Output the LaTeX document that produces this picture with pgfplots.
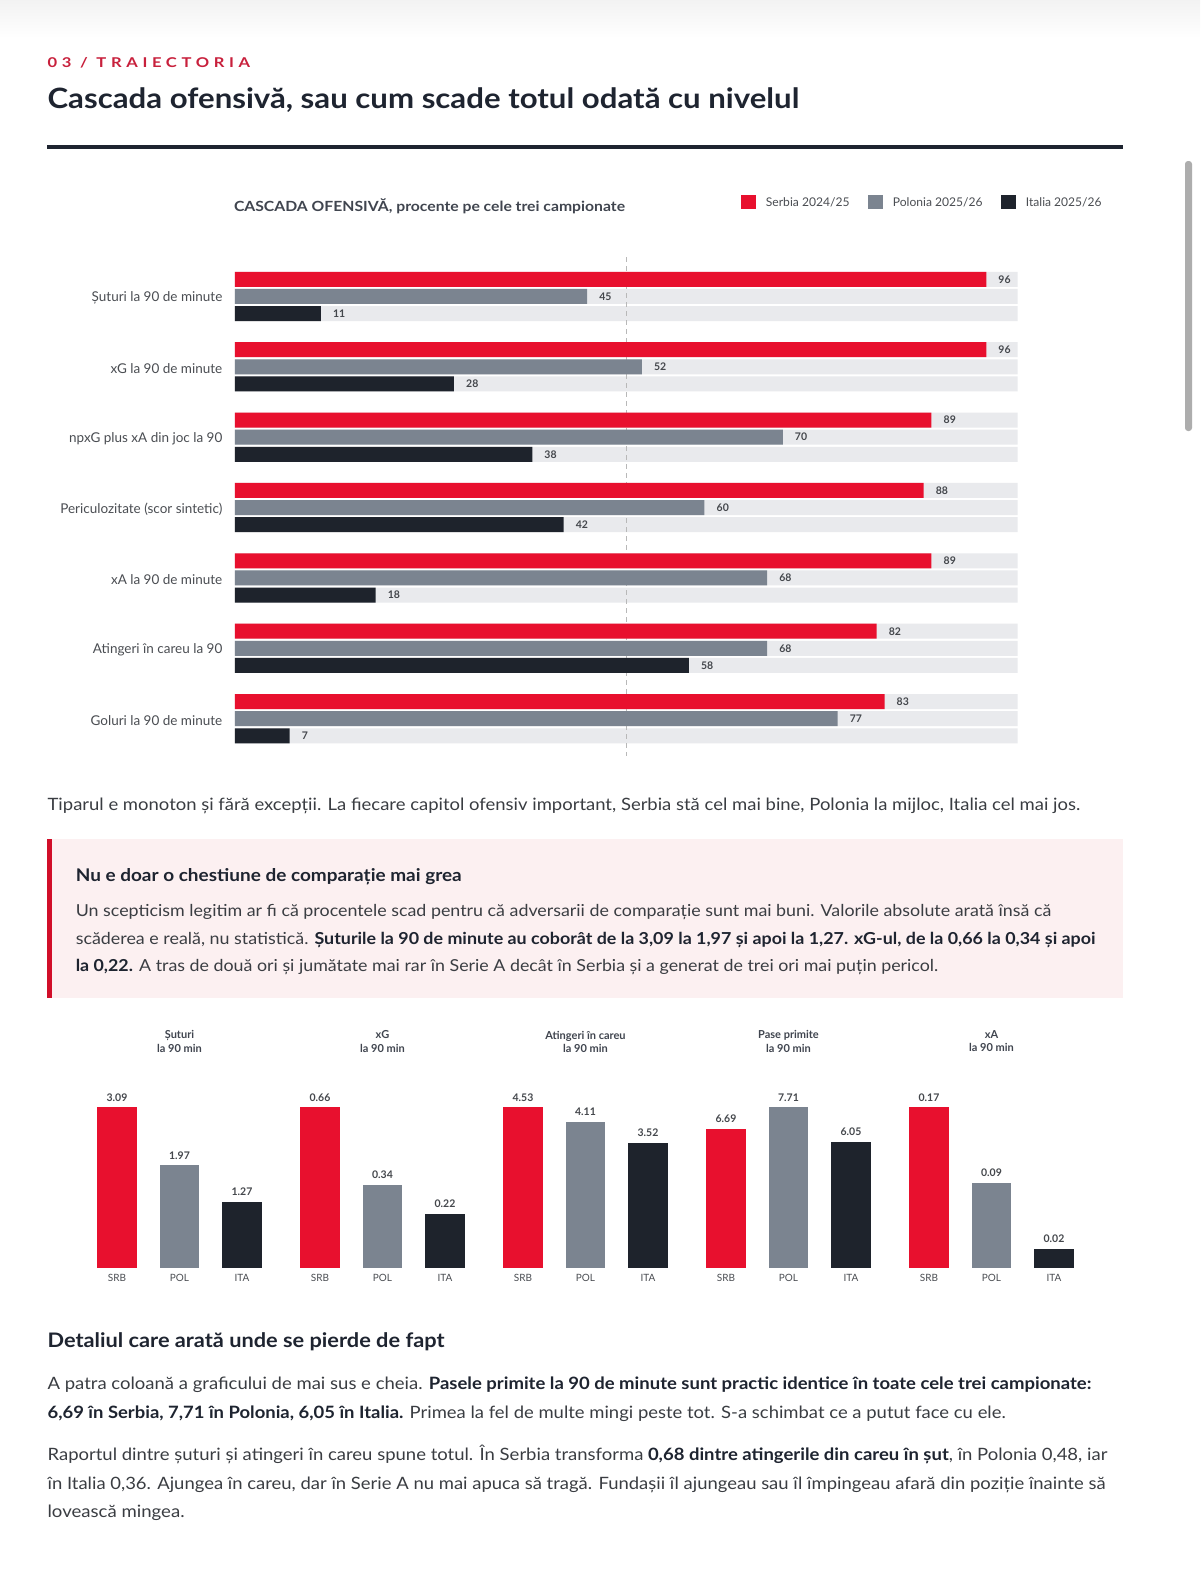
\documentclass[border=0pt]{standalone}
\usepackage{pgfplots}
\usepackage{pgfplotstable}
\pgfplotsset{compat=1.18}
\usepackage{graphicx}
\usepackage{fontspec}
\setmainfont{Lato}
\newfontfamily\kickerfont[LetterSpace=28]{Lato}

\definecolor{srbc}{HTML}{E8102E}
\definecolor{polc}{HTML}{7B8490}
\definecolor{itac}{HTML}{1E232C}
\definecolor{trackc}{HTML}{E9EAED}
\definecolor{kickc}{HTML}{C8203C}
\definecolor{headc}{HTML}{1E2430}
\definecolor{bodyc}{HTML}{3A3D42}
\definecolor{labc}{HTML}{4A4D52}
\definecolor{valc}{HTML}{44474C}
\definecolor{calloutbg}{HTML}{FCF0F1}

\newsavebox\fitbox
\newcommand\fitw[2]{\sbox\fitbox{#2}\pgfmathsetmacro\fitsc{#1/\the\wd\fitbox}\scalebox{\fitsc}[1]{\usebox\fitbox}}

\pgfplotstableread{
idx serbia polonia italia full
0 96 45 11 100
1 96 52 28 100
2 89 70 38 100
3 88 60 42 100
4 89 68 18 100
5 82 68 58 100
6 83 77 7 100
}\cascada

\pgfplotsset{
  sm/.style={
    scale only axis, width=187.5pt, height=160.2pt, anchor=south,
    xmin=-0.5, xmax=2.5, ymin=0,
    axis line style={draw=none}, tick style={draw=none},
    ytick=\empty, xtick={0,1,2}, xticklabels={SRB,POL,ITA},
    xticklabel style={font=\fontsize{10}{12}\selectfont, text=labc, inner sep=0pt, anchor=north, yshift=-2pt},
    ybar, bar width=39.3pt, clip=false,
    /pgf/number format/assume math mode=true,
    nodes near coords={\pgfmathprintnumber[fixed,fixed zerofill,precision=2]{\pgfplotspointmeta}},
    every node near coord/.append style={font=\bfseries\fontsize{10.5}{12}\selectfont, text=valc, inner sep=0pt, yshift=6pt},
  },
}

\begin{document}
\begin{tikzpicture}[x=1pt,y=1pt]
\useasboundingbox (0,0) rectangle (1200,-1580);
\fill[white] (0,0) rectangle (1200,-1580);
\shade[top color=black!5, bottom color=white] (0,0) rectangle (1200,-38);
% scrollbar
\fill[black!32, rounded corners=3pt] (1185,-161) rectangle (1192,-431);

% kicker and title
\node[anchor=mid west, inner sep=0, text=kickc, font=\kickerfont\bfseries\fontsize{13.5}{16}\selectfont] at (47.4,-64.5) {\fitw{202.5}{03 / TRAIECTORIA}};
\node[anchor=mid west, inner sep=0, text=headc, font=\bfseries\fontsize{28}{32}\selectfont] at (47.4,-106) {\fitw{751.6}{Cascada ofensivă, sau cum scade totul odată cu nivelul}};
\fill[headc] (47.4,-144.8) rectangle (1123.4,-149.4);

% chart title and legend
\node[anchor=mid west, inner sep=0, text=headc!85, font=\bfseries\fontsize{14}{16}\selectfont] at (233.8,-208.5) {\fitw{391}{CASCADA OFENSIVĂ, procente pe cele trei campionate}};
\fill[srbc] (740.6,-195) rectangle (755.7,-208.5);
\fill[polc] (867.5,-195) rectangle (882.6,-208.5);
\fill[itac] (1000.5,-195) rectangle (1015.6,-208.5);
\node[anchor=mid west, inner sep=0, text=labc, font=\fontsize{12}{14}\selectfont] at (765.7,-204) {\fitw{83.7}{Serbia 2024/25}};
\node[anchor=mid west, inner sep=0, text=labc, font=\fontsize{12}{14}\selectfont] at (892.7,-204) {\fitw{89.7}{Polonia 2025/26}};
\node[anchor=mid west, inner sep=0, text=labc, font=\fontsize{12}{14}\selectfont] at (1025.7,-204) {\fitw{75.6}{Italia 2025/26}};

\begin{axis}[
  at={(234.8pt,-254.2pt)}, anchor=north west,
  scale only axis, width=782.8pt, height=506.7pt,
  xmin=0, xmax=100, ymin=-0.6, ymax=6.6, y dir=reverse,
  axis line style={draw=none}, tick style={draw=none},
  xtick=\empty, ytick={0,1,2,3,4,5,6},
  yticklabels={Șuturi la 90 de minute, xG la 90 de minute, npxG plus xA din joc la 90, Periculozitate (scor sintetic), xA la 90 de minute, Atingeri în careu la 90, Goluri la 90 de minute},
  yticklabel style={font=\fontsize{13.5}{15}\selectfont, text=labc, inner sep=0pt, anchor=east, xshift=-8pt, yshift=-1.5pt},
  xbar, bar width=15pt, clip=false,
  /pgf/number format/assume math mode=true,
]
\addplot[fill=trackc, draw=none, bar shift=0pt] table[x=full, y expr=\thisrow{idx}-0.243] {\cascada};
\addplot[fill=trackc, draw=none, bar shift=0pt] table[x=full, y=idx] {\cascada};
\addplot[fill=trackc, draw=none, bar shift=0pt] table[x=full, y expr=\thisrow{idx}+0.243] {\cascada};
\draw[black!28, line width=1pt, dash pattern=on 5pt off 4pt] (axis cs:50,-0.56) -- (axis cs:50,6.53);
\addplot[fill=srbc, draw=none, bar shift=0pt, nodes near coords, every node near coord/.append style={anchor=west, inner sep=0pt, xshift=12pt, font=\bfseries\fontsize{10.5}{12}\selectfont, text=valc}] table[x=serbia, y expr=\thisrow{idx}-0.243] {\cascada};
\addplot[fill=polc, draw=none, bar shift=0pt, nodes near coords, every node near coord/.append style={anchor=west, inner sep=0pt, xshift=12pt, font=\bfseries\fontsize{10.5}{12}\selectfont, text=valc}] table[x=polonia, y=idx] {\cascada};
\addplot[fill=itac, draw=none, bar shift=0pt, nodes near coords, every node near coord/.append style={anchor=west, inner sep=0pt, xshift=12pt, font=\bfseries\fontsize{10.5}{12}\selectfont, text=valc}] table[x=italia, y expr=\thisrow{idx}+0.243] {\cascada};
\end{axis}

% paragraph 1
\node[anchor=mid west, inner sep=0, text=bodyc, font=\fontsize{17}{20}\selectfont] at (47.4,-808) {\fitw{1032.6}{Tiparul e monoton și fără excepții. La fiecare capitol ofensiv important, Serbia stă cel mai bine, Polonia la mijloc, Italia cel mai jos.}};

% callout
\fill[calloutbg] (47.4,-839.3) rectangle (1123.4,-997.5);
\fill[srbc!90!black] (47.4,-839.3) rectangle (51.6,-997.5);
\node[anchor=mid west, inner sep=0, text=headc, font=\bfseries\fontsize{17.5}{20}\selectfont] at (75.6,-878.6) {\fitw{385.9}{Nu e doar o chestiune de comparație mai grea}};
\node[anchor=mid west, inner sep=0, text=bodyc, font=\fontsize{16.5}{20}\selectfont] at (75.6,-913.8) {\fitw{975.4}{Un scepticism legitim ar fi că procentele scad pentru că adversarii de comparație sunt mai buni. Valorile absolute arată însă că}};
\node[anchor=mid west, inner sep=0, text=bodyc, font=\fontsize{16.5}{20}\selectfont] at (75.6,-942) {\fitw{1019.6}{scăderea e reală, nu statistică. {\bfseries\color{headc}Șuturile la 90 de minute au coborât de la 3,09 la 1,97 și apoi la 1,27. xG-ul, de la 0,66 la 0,34 și apoi}}};
\node[anchor=mid west, inner sep=0, text=bodyc, font=\fontsize{16.5}{20}\selectfont] at (75.6,-969.3) {\fitw{862.4}{{\bfseries\color{headc}la 0,22.} A tras de două ori și jumătate mai rar în Serie A decât în Serbia și a generat de trei ori mai puțin pericol.}};

% small multiples titles
\begin{scope}[every node/.style={align=center, inner sep=0pt, text=headc!85, font=\bfseries\fontsize{11}{13.1}\selectfont}]
\node at (179.5,-1041.5) {Șuturi\\la 90 min};
\node at (382.5,-1041.5) {xG\\la 90 min};
\node at (585.5,-1041.5) {Atingeri în careu\\la 90 min};
\node at (788.5,-1041.5) {Pase primite\\la 90 min};
\node at (991.5,-1041.5) {xA\\la 90 min};
\end{scope}

\begin{axis}[sm, at={(179.5pt,-1267.5pt)}, ymax=3.09]
\addplot[fill=srbc, draw=none, bar shift=0pt] coordinates {(0,3.09)};
\addplot[fill=polc, draw=none, bar shift=0pt] coordinates {(1,1.97)};
\addplot[fill=itac, draw=none, bar shift=0pt] coordinates {(2,1.27)};
\end{axis}
\begin{axis}[sm, at={(382.5pt,-1267.5pt)}, ymax=0.66]
\addplot[fill=srbc, draw=none, bar shift=0pt] coordinates {(0,0.66)};
\addplot[fill=polc, draw=none, bar shift=0pt] coordinates {(1,0.34)};
\addplot[fill=itac, draw=none, bar shift=0pt] coordinates {(2,0.22)};
\end{axis}
\begin{axis}[sm, at={(585.5pt,-1267.5pt)}, ymax=4.53]
\addplot[fill=srbc, draw=none, bar shift=0pt] coordinates {(0,4.53)};
\addplot[fill=polc, draw=none, bar shift=0pt] coordinates {(1,4.11)};
\addplot[fill=itac, draw=none, bar shift=0pt] coordinates {(2,3.52)};
\end{axis}
\begin{axis}[sm, at={(788.5pt,-1267.5pt)}, ymax=7.71]
\addplot[fill=srbc, draw=none, bar shift=0pt] coordinates {(0,6.69)};
\addplot[fill=polc, draw=none, bar shift=0pt] coordinates {(1,7.71)};
\addplot[fill=itac, draw=none, bar shift=0pt] coordinates {(2,6.05)};
\end{axis}
\begin{axis}[sm, at={(991.5pt,-1267.5pt)}, ymax=0.17]
\addplot[fill=srbc, draw=none, bar shift=0pt] coordinates {(0,0.17)};
\addplot[fill=polc, draw=none, bar shift=0pt] coordinates {(1,0.09)};
\addplot[fill=itac, draw=none, bar shift=0pt] coordinates {(2,0.02)};
\end{axis}

% section 2
\node[anchor=mid west, inner sep=0, text=headc, font=\bfseries\fontsize{20}{24}\selectfont] at (47.4,-1345) {\fitw{396.9}{Detaliul care arată unde se pierde de fapt}};
\node[anchor=mid west, inner sep=0, text=bodyc, font=\fontsize{17}{20}\selectfont] at (47.4,-1387.4) {\fitw{1043.8}{A patra coloană a graficului de mai sus e cheia. {\bfseries\color{headc}Pasele primite la 90 de minute sunt practic identice în toate cele trei campionate:}}};
\node[anchor=mid west, inner sep=0, text=bodyc, font=\fontsize{17}{20}\selectfont] at (47.4,-1415.6) {\fitw{958.1}{{\bfseries\color{headc}6,69 în Serbia, 7,71 în Polonia, 6,05 în Italia.} Primea la fel de multe mingi peste tot. S-a schimbat ce a putut face cu ele.}};
\node[anchor=mid west, inner sep=0, text=bodyc, font=\fontsize{17}{20}\selectfont] at (47.4,-1458) {\fitw{1059.9}{Raportul dintre șuturi și atingeri în careu spune totul. În Serbia transforma {\bfseries\color{headc}0,68 dintre atingerile din careu în șut}, în Polonia 0,48, iar}};
\node[anchor=mid west, inner sep=0, text=bodyc, font=\fontsize{17}{20}\selectfont] at (47.4,-1487) {\fitw{1057.9}{în Italia 0,36. Ajungea în careu, dar în Serie A nu mai apuca să tragă. Fundașii îl ajungeau sau îl împingeau afară din poziție înainte să}};
\node[anchor=mid west, inner sep=0, text=bodyc, font=\fontsize{17}{20}\selectfont] at (47.4,-1515) {\fitw{137}{lovească mingea.}};
\end{tikzpicture}
\end{document}
